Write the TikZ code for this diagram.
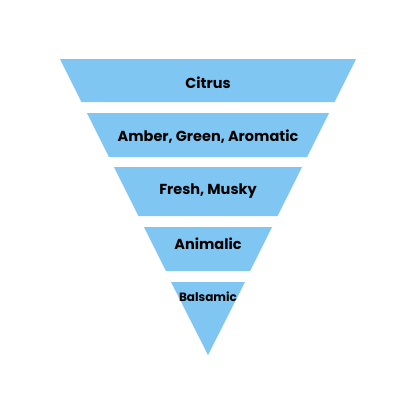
\documentclass[tikz,border=0pt]{standalone}
\usepackage{fontspec}
\setmainfont{Poppins}
\usepackage{tikz}
\usetikzlibrary{positioning,calc}
\definecolor{bandblue}{HTML}{7FC7F2}

\begin{document}
\begin{tikzpicture}[
  x=1pt, y=-1pt,
  band/.style={fill=bandblue, draw=none},
  label/.style={font=\bfseries\fontsize{14.5}{16}\selectfont, text=black, inner sep=0pt},
  small/.style={font=\bfseries\fontsize{12}{14}\selectfont, text=black, inner sep=0pt}
]
\useasboundingbox (0,0) rectangle (416,416);

% bands of the inverted pyramid, apex at (208,355)
\foreach \top/\bot [count=\i] in {59/102, 113/157, 167/216, 227/271}{
  \fill[band] ({208-0.5*(355-\top)},\top) -- ({208+0.5*(355-\top)},\top)
    -- ({208+0.5*(355-\bot)},\bot) -- ({208-0.5*(355-\bot)},\bot) -- cycle;
}
\fill[band] (171,282) -- (245,282) -- (208,355) -- cycle;

\node[label] (citrus) at (208,83) {Citrus};
\node[label] (amber) at (208,137) {Amber, Green, Aromatic};
\node[label] (fresh) at (208,191) {Fresh, Musky};
\node[label] (animalic) at (208,244) {Animalic};
\node[small] (balsamic) at (208,297) {Balsamic};

\end{tikzpicture}
\end{document}
